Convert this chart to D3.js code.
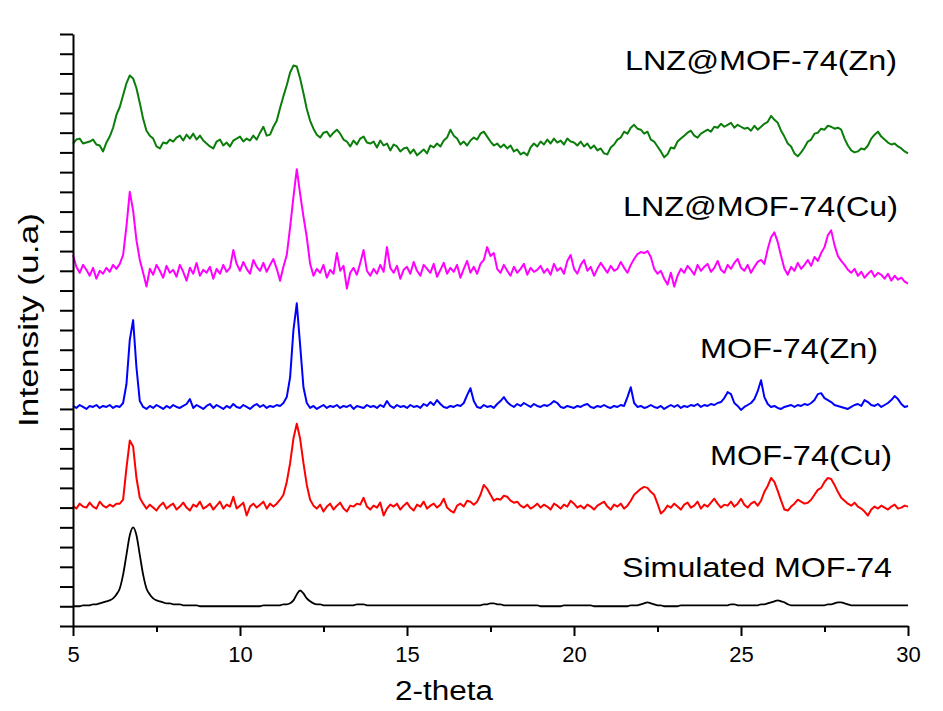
<!DOCTYPE html>
<html>
<head>
<meta charset="utf-8">
<script src="https://cdn.jsdelivr.net/npm/d3@7"></script>
<style>
  html, body { margin: 0; padding: 0; background: #ffffff; }
  .svgGraphique { width: 943px; height: 711px; }
  text { font-family: "Liberation Sans", Arial, sans-serif; fill: #000; }
</style>
</head>
<body>
<div class="svgGraphique"></div>
<script>
// grille 2-theta : 5 -> 30 par pas de 0.1
const twoTheta = d3.range(251).map(i => +(5 + i * 0.1).toFixed(1));

// intensités (unités arbitraires, décalées)
const simulated = [
  20,20,20,21,21,21,22,22,23,24, 25,26,28,32,38,52,72,92,100,92,
  72,52,38,32,28,26,25,24,23,23, 22,22,22,21,21,21,21,21,20,20,
  20,20,20,20,20,20,20,20,20,20, 20,20,20,20,20,20,20,21,21,21,
  21,21,21,22,22,23,26,32,36,33, 28,25,23,22,22,21,21,21,21,21,
  21,21,21,21,21,22,22,22,21,21, 21,21,21,21,21,21,21,21,21,21,
  21,21,21,21,21,21,21,21,21,21, 21,21,21,21,21,21,21,21,21,21,
  21,21,21,22,22,23,23,22,22,21, 21,21,21,21,21,21,21,21,21,21,
  20,20,20,20,20,20,20,21,21,21, 21,21,21,21,21,21,20,20,20,20,
  20,20,20,20,20,20,20,21,21,21, 22,23,24,23,22,21,21,20,20,20,
  20,20,21,21,21,21,21,21,21,21, 21,21,21,21,21,21,21,22,22,21,
  21,21,21,21,21,21,22,22,23,24, 25,26,25,24,22,21,21,21,21,21,
  21,21,21,21,21,21,22,22,23,24, 24,23,22,21,21,21,21,21,21,21,
  21,21,21,21,21,21,21,21,21,21, 21
];
const mof74Cu = [
  122,119,124,121,120,125,121,119,126,122, 120,123,121,124,124,128,160,188,182,150,
  130,124,119,123,120,117,122,125,119,122, 124,118,121,125,120,117,123,121,126,119,
  121,124,118,122,126,119,123,121,131,119, 122,125,112,121,124,120,123,126,119,124,
  121,124,128,133,146,165,190,205,190,165, 143,128,122,119,123,116,121,124,118,122,
  125,119,116,122,121,124,123,130,121,118, 122,120,125,112,119,123,121,124,118,122,
  125,120,117,123,121,126,119,122,124,120, 123,129,120,117,115,122,124,121,127,126,
  123,126,133,143,139,133,127,129,128,132, 131,127,125,126,122,120,123,119,121,124,
  120,123,121,118,124,122,119,123,121,127, 124,120,122,119,123,121,118,122,124,126,
  121,118,123,121,124,119,122,127,133,136, 139,141,140,136,133,124,114,117,122,120,
  124,121,118,123,125,120,122,126,119,123, 121,125,129,124,120,123,122,126,121,124,
  129,123,120,124,126,122,127,136,142,150, 146,137,127,118,117,121,124,128,126,124,
  125,128,133,138,140,146,150,149,143,136, 130,127,124,122,125,121,119,116,112,118,
  121,119,122,120,118,121,123,119,120,122, 121
];
const mof74Zn = [
  223,221,224,222,220,223,222,224,221,223, 222,224,221,223,222,226,245,290,310,262,
  228,222,220,223,221,224,222,220,223,221, 224,222,221,223,225,230,221,224,222,220,
  223,225,221,224,222,220,223,221,225,222, 221,224,222,220,223,225,222,224,221,223,
  222,224,223,226,232,252,300,327,285,242, 226,221,223,220,222,224,221,223,222,224,
  221,223,222,224,220,223,222,221,224,222, 223,221,224,222,228,223,221,224,222,223,
  221,224,222,223,221,225,223,227,224,229, 225,222,221,223,222,224,223,226,234,241,
  228,222,221,224,222,223,221,225,228,232, 227,224,222,225,223,226,224,222,225,223,
  222,224,223,225,228,226,222,221,223,222, 221,223,222,224,225,222,221,223,222,224,
  222,221,223,222,224,223,232,242,226,222, 223,221,222,224,222,221,223,220,222,224,
  222,224,221,223,222,224,223,225,222,224, 223,225,224,226,227,231,237,235,226,223,
  219,222,224,226,230,238,249,232,225,222, 223,221,220,222,223,224,222,224,223,225,
  224,226,229,235,236,231,229,227,224,223, 222,221,220,222,224,225,223,229,227,224,
  223,225,222,224,226,229,233,230,225,222, 223
];
const lnzCu = [
  376,364,358,366,361,355,363,352,360,357, 363,359,366,362,367,376,405,440,421,391,
  371,358,344,362,356,366,360,353,365,358, 361,354,366,359,350,363,357,368,355,361,
  358,364,352,362,357,366,359,363,381,367, 360,369,362,357,371,364,360,368,359,366,
  372,362,350,364,376,404,435,463,438,415, 394,367,355,362,358,366,353,361,357,378,
  360,365,342,358,363,356,368,381,360,355, 362,357,366,359,384,363,358,365,352,361,
  364,357,369,360,355,366,362,358,367,354, 361,368,357,363,359,366,353,362,370,358,
  364,357,367,371,384,375,378,362,358,366, 360,355,364,358,362,367,356,363,359,361,
  365,358,362,356,367,360,363,357,370,376, 362,357,366,371,360,364,355,362,368,363,
  358,365,360,362,369,363,358,366,372,377, 379,378,380,374,362,357,360,352,346,358,
  344,355,362,358,365,361,356,366,360,364, 367,359,363,370,361,358,366,362,368,372,
  363,360,366,358,364,369,371,367,382,394, 399,389,375,362,356,364,360,368,362,366,
  371,365,374,370,378,384,396,401,386,375, 370,366,361,358,362,355,359,353,357,360,
  354,358,356,352,357,350,355,351,353,349, 347
];
const lnzZn = [
  489,493,494,489,490,491,493,488,487,481, 490,496,505,518,526,538,550,558,555,545,
  530,514,502,497,494,486,484,490,489,493, 491,495,497,492,498,494,499,493,497,492,
  489,486,484,491,493,487,490,486,492,494, 496,491,494,492,497,493,500,506,497,498,
  506,512,525,537,548,561,568,567,555,540, 524,512,504,498,495,500,501,496,500,503,
  499,493,491,486,492,488,494,496,490,489, 491,485,492,487,489,482,488,486,481,484,
  485,479,483,477,480,483,479,487,485,489, 486,492,495,503,497,494,488,491,487,492,
  495,493,499,501,496,491,487,489,485,488, 484,487,481,483,478,480,477,485,489,486,
  491,488,493,489,494,490,492,488,494,491, 490,487,491,486,489,484,487,482,484,479,
  478,485,488,493,495,501,499,505,508,504, 503,499,501,493,491,486,481,475,478,485,
  484,491,494,497,500,502,497,495,499,501, 503,501,506,505,509,506,508,510,505,508,
  506,504,505,502,507,503,506,509,511,517, 513,510,502,496,489,486,479,476,480,485,
  491,493,499,500,504,503,507,506,504,505, 503,494,487,482,480,481,484,483,487,494,
  498,501,496,493,490,488,489,486,484,481, 479
];

const seriesNames = ["Simulated MOF-74", "MOF-74(Cu)", "MOF-74(Zn)", "LNZ@MOF-74(Cu)", "LNZ@MOF-74(Zn)"];
const seriesValues = [simulated, mof74Cu, mof74Zn, lnzCu, lnzZn];
const xTicks = [5, 10, 15, 20, 25, 30];
const xMinorTicks = [7.5, 12.5, 17.5, 22.5, 27.5];
const yTicks = d3.range(0, 601, 20);

// styles et placement des étiquettes
const colors = ["#000000", "#ff0000", "#0000ff", "#ff00ff", "#0b7d0b"];
const widths = [1.8, 2, 2, 2, 2];
const labelPos = [
  { right: 892, base: 577, len: 270 },
  { right: 892, base: 465, len: 182 },
  { right: 878, base: 358, len: 178 },
  { right: 898, base: 216, len: 275 },
  { right: 897, base: 70, len: 272 }
];

const width = 943, height = 711;
const svg = d3.create("svg")
  .attr("width", width)
  .attr("height", height)
  .attr("viewBox", `0 0 ${width} ${height}`)
  .style("background-color", "#ffffff");

const x = d3.scaleLinear().domain([5, 30]).range([73, 908]);
const y = d3.scaleLinear().domain([0, 600]).range([626, 34]);

// courbes
const line = d3.line().x(d => x(d[0])).y(d => y(d[1]));
seriesValues.forEach((vals, k) => {
  const pts = twoTheta.map((t, i) => [t, vals[i]]);
  svg.append("path")
    .datum(pts)
    .attr("fill", "none")
    .attr("stroke", colors[k])
    .attr("stroke-width", widths[k])
    .attr("stroke-linejoin", "round")
    .attr("d", k === 0 ? line.curve(d3.curveMonotoneX)(pts) : line.curve(d3.curveLinear)(pts));
});

// axe Y (graduations sans étiquettes)
const yAxis = svg.append("g")
  .attr("transform", `translate(${x(5)},0)`)
  .call(d3.axisLeft(y).tickValues(yTicks).tickSize(13).tickSizeOuter(0).tickFormat(""));

// axe X
const xAxis = svg.append("g")
  .attr("transform", `translate(0,${y(0)})`)
  .call(d3.axisBottom(x).tickValues(xTicks).tickSize(10).tickSizeOuter(0).tickPadding(10).tickFormat(d3.format("d")));
const xMinor = svg.append("g")
  .attr("transform", `translate(0,${y(0)})`)
  .call(d3.axisBottom(x).tickValues(xMinorTicks).tickSize(6).tickFormat(""));
xMinor.select(".domain").remove();

svg.selectAll(".domain, .tick line").attr("stroke", "#000").attr("stroke-width", 2);
xAxis.selectAll(".tick text")
  .attr("font-size", 22)
  .attr("font-family", '"Liberation Sans", Arial, sans-serif');

// titres des axes
svg.append("text")
  .attr("x", 444)
  .attr("y", 700)
  .attr("text-anchor", "middle")
  .attr("font-size", 27)
  .attr("textLength", 98)
  .attr("lengthAdjust", "spacingAndGlyphs")
  .text("2-theta");

svg.append("text")
  .attr("transform", "translate(38,320) rotate(-90)")
  .attr("text-anchor", "middle")
  .attr("font-size", 27)
  .attr("textLength", 214)
  .attr("lengthAdjust", "spacingAndGlyphs")
  .text("Intensity (u.a)");

// étiquettes des séries
seriesNames.forEach((name, k) => {
  const p = labelPos[k];
  svg.append("text")
    .attr("x", p.right - p.len)
    .attr("y", p.base)
    .attr("font-size", 28)
    .attr("textLength", p.len)
    .attr("lengthAdjust", "spacingAndGlyphs")
    .text(name);
});

document.querySelector(".svgGraphique").appendChild(svg.node());
</script>
</body>
</html>
